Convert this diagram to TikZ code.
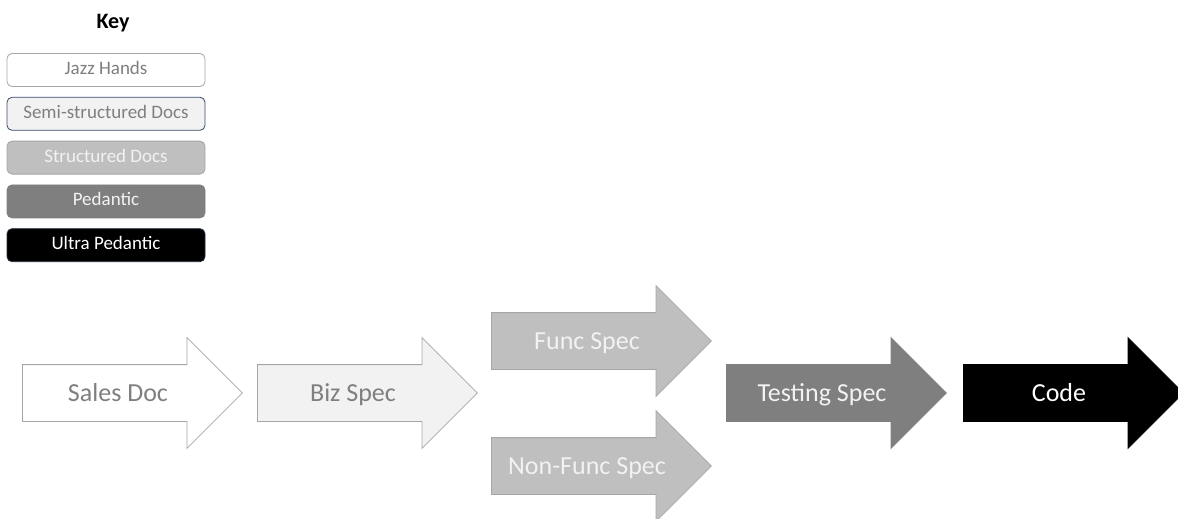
\documentclass[tikz,border=0pt]{standalone}
\usepackage{fontspec}
\setmainfont{Carlito}
\usetikzlibrary{shapes.arrows,positioning}

\definecolor{lightgray}{HTML}{F2F2F2}
\definecolor{midgray}{HTML}{BFBFBF}
\definecolor{edgegray}{HTML}{A6A6A6}
\definecolor{darkgray}{HTML}{7F7F7F}
\definecolor{navyedge}{HTML}{3A4A6B}

\tikzset{
  keybox/.style={rectangle, rounded corners=5pt, minimum width=198pt, minimum height=33pt,
    line width=0.8pt, font=\fontsize{19}{22}\selectfont, inner sep=0pt, text height=12.5pt, text depth=3.5pt},
  specarrow/.style={single arrow, anchor=tail, minimum height=220pt, text height=28pt, text depth=28pt,
    text width=0pt, single arrow head extend=27pt, single arrow tip angle=90, inner sep=0pt, line width=0.8pt},
  spectext/.style={font=\fontsize{26}{30}\selectfont, inner sep=0pt, anchor=base},
}

\begin{document}
\begin{tikzpicture}[x=1pt, y=-1pt]
  \clip (0,0) rectangle (1178,519);

  % key
  \node[font=\bfseries\fontsize{22}{26}\selectfont] (key) at (113,23) {Key};
  \node[keybox, fill=white, draw=edgegray, text=darkgray] (jazz) at (106,70) {Jazz Hands};
  \node[keybox, fill=lightgray, draw=navyedge, text=darkgray, below=10pt of jazz] (semi) {Semi-structured Docs};
  \node[keybox, fill=midgray, draw=edgegray, text=lightgray, below=10pt of semi] (struct) {Structured Docs};
  \node[keybox, fill=darkgray, draw=darkgray, text=lightgray, below=10pt of struct] (pedantic) {Pedantic};
  \node[keybox, fill=black, draw=navyedge!60!black, text=white, below=10pt of pedantic] (ultra) {Ultra Pedantic};

  % flow of documents
  \node[specarrow, fill=white, draw=edgegray] (sales) at (22,393) {};
  \node[specarrow, fill=lightgray, draw=edgegray] (biz) at (257,393) {};
  \node[specarrow, fill=midgray, draw=edgegray] (func) at (491,341) {};
  \node[specarrow, fill=midgray, draw=edgegray] (nonfunc) at (491,466) {};
  \node[specarrow, fill=darkgray, draw=darkgray] (testing) at (726,393) {};
  \node[specarrow, fill=black, draw=black] (code) at (963,393) {};

  \node[spectext, text=darkgray] (salestext) at ([xshift=96pt, yshift=-8pt]sales.tail) {Sales Doc};
  \node[spectext, text=darkgray] (biztext) at ([xshift=96pt, yshift=-8pt]biz.tail) {Biz Spec};
  \node[spectext, text=lightgray] (functext) at ([xshift=96pt, yshift=-8pt]func.tail) {Func Spec};
  \node[spectext, text=lightgray] (nonfunctext) at ([xshift=96pt, yshift=-8pt]nonfunc.tail) {Non-Func Spec};
  \node[spectext, text=lightgray] (testingtext) at ([xshift=96pt, yshift=-8pt]testing.tail) {Testing Spec};
  \node[spectext, text=white] (codetext) at ([xshift=96pt, yshift=-8pt]code.tail) {Code};
\end{tikzpicture}
\end{document}
